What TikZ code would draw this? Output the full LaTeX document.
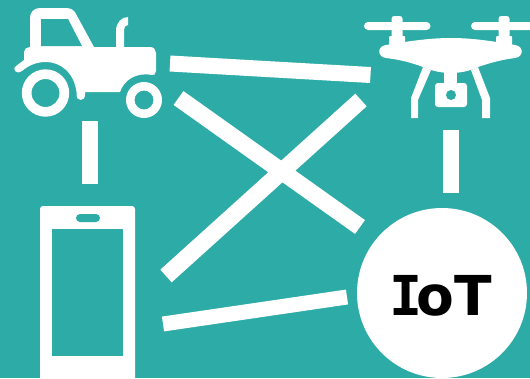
\documentclass[tikz,border=0pt]{standalone}
\usepackage{xcolor}
\usepackage{fontspec}
\setmainfont{DejaVu Sans}
\newfontfamily\slabfont{DejaVu Sans Mono}
\usetikzlibrary{positioning,calc}
\definecolor{bgteal}{HTML}{2CABA7}

\begin{document}
\begin{tikzpicture}[x=1pt,y=-1pt,icon/.style={fill=white,draw=none},hole/.style={fill=bgteal,draw=none},link/.style={draw=white,line width=#1}]
\useasboundingbox (0,0) rectangle (530,378);
\fill[bgteal] (0,0) rectangle (530,378);
\clip (0,0) rectangle (530,378);
% tractor
\fill[icon] (30,47) -- (30,18) .. controls (30,12) and (34,8) .. (40,8) -- (66,8) .. controls (71,8) and (74,10) .. (76,14) -- (94,47) -- (150,47) .. controls (154,47) and (156,50) .. (156,53) -- (156,71) .. controls (156,74) and (154,75.5) .. (152,75) .. controls (136,72) and (124,80) .. (120,92) -- (85,92) -- (85,95) .. controls (85,101.5) and (76.5,101.5) .. (76.5,95) -- (76.5,92) .. controls (74,72) and (60,62) .. (46,62) .. controls (37,62) and (29,65) .. (22,71) .. controls (18,75) and (11,70) .. (16,66) -- (24,60) -- (24,52) .. controls (24,49) and (26,48) .. (30,47) -- cycle;
\fill[hole] (41,19) -- (68,19) -- (82,46) -- (41,46) -- cycle;
\fill[icon] (116,48) -- (116,31) .. controls (116,23) and (121,17) .. (128,17) -- (128,25) .. controls (125.5,25) and (124,27) .. (124,30) -- (124,48) -- cycle;
\fill[icon,even odd rule] (45.5,93) circle[radius=23.7] (45.5,93) circle[radius=14];
\fill[icon,even odd rule] (144,100) circle[radius=18] (144,100) circle[radius=9.5];
% drone
\foreach \px in {397,504}{
\fill[icon,rounded corners=1pt] (\px-8,46) rectangle (\px+8,36);
\fill[icon,rounded corners=2.7pt] (\px-5.5,40) rectangle (\px+5.5,16);
\fill[icon,rounded corners=4pt] (\px-33,22) rectangle (\px+33.5,30);
}
\fill[icon] (386,45) .. controls (410,41) and (430,38) .. (451,38) .. controls (472,38) and (492,41) .. (515,45) .. controls (524,46) and (524,57) .. (515,58) .. controls (500,60) and (490,63) .. (478,67) .. controls (470,71) and (460,73) .. (451,73) .. controls (442,73) and (432,71) .. (423,67) .. controls (412,63) and (402,60) .. (386,58) .. controls (377,57) and (377,46) .. (386,45) -- cycle;
\fill[icon] (423,67) -- (411,98) -- (411,118) -- (418,118) -- (418,100) -- (431,70) -- cycle;
\fill[icon] (478,67) -- (490,98) -- (490,118) -- (482,118) -- (482,100) -- (471,70) -- cycle;
\fill[icon] (444,70) rectangle (457,86);
\fill[icon,rounded corners=3pt] (435,83) rectangle (467,107);
\fill[hole] (451,95) circle[radius=5];
% phone
\fill[icon,rounded corners=3pt] (40,206) rectangle (135,385);
\fill[hole] (52,229) rectangle (123,356);
\fill[hole,rounded corners=4pt] (76,214) rectangle (100,222);
% iot
\node[circle,fill=white,inner sep=0pt,minimum size=170pt] (iot) at (442,293) {};
\node[font=\fontsize{55}{55}\selectfont\bfseries,inner sep=0pt] (iotlabel) at (443,296) {{\slabfont\kern-4pt I\kern-6pt}oT};
% ends of the bars
\coordinate (tractorE) at (170,63.5);
\coordinate (droneW) at (370.5,75);
\coordinate (tractorS) at (90,121);
\coordinate (phoneN) at (90,184);
\coordinate (droneS) at (451,130);
\coordinate (iotN) at (451,193);
\coordinate (phoneE) at (163,324);
\coordinate (iotW) at (347,297);
\coordinate (tractorSE) at (178.5,98);
\coordinate (iotNW) at (360,227);
\coordinate (droneSW) at (361,100);
\coordinate (phoneNE) at (166,276);
\draw[link=16pt] (tractorE) -- (droneW);
\draw[link=16pt] (tractorS) -- (phoneN);
\draw[link=16pt] (droneS) -- (iotN);
\draw[link=15pt] (phoneE) -- (iotW);
\draw[link=17pt] (tractorSE) -- (iotNW);
\draw[link=17pt] (droneSW) -- (phoneNE);
\end{tikzpicture}
\end{document}
